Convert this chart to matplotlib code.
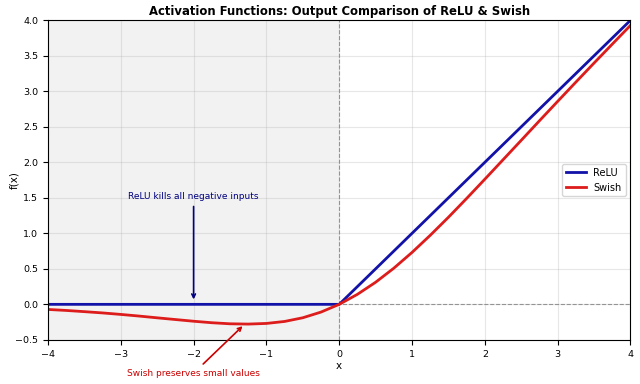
import numpy as np
import matplotlib.pyplot as plt

# ReLU is piecewise linear, corners are enough
relu_x = [-4.0, 0.0, 4.0]
relu_y = [0.0, 0.0, 4.0]

# Swish values at 0.25 steps
swish_x = [-4.0, -3.75, -3.5, -3.25, -3.0, -2.75, -2.5, -2.25, -2.0, -1.75, -1.5,
           -1.25, -1.0, -0.75, -0.5, -0.25, 0.0, 0.25, 0.5, 0.75, 1.0, 1.25, 1.5,
           1.75, 2.0, 2.25, 2.5, 2.75, 3.0, 3.25, 3.5, 3.75, 4.0]
swish_y = [-0.072, -0.086, -0.103, -0.121, -0.142, -0.165, -0.190, -0.214, -0.238,
           -0.259, -0.274, -0.278, -0.269, -0.241, -0.189, -0.109, 0.0, 0.141, 0.311,
           0.509, 0.731, 0.972, 1.226, 1.491, 1.762, 2.036, 2.310, 2.585, 2.858,
           3.129, 3.398, 3.664, 3.928]

fig, ax = plt.subplots(figsize=(6.4, 3.84), dpi=100)

ax.axvspan(-4, 0, color='grey', alpha=0.1, lw=0)
ax.axhline(0, color='grey', ls='--', lw=0.8, alpha=0.8)
ax.axvline(0, color='grey', ls='--', lw=0.8, alpha=0.8)

ax.plot(relu_x, relu_y, color='#1212a8', lw=2, label='ReLU')
ax.plot(swish_x, swish_y, color='#dd1c1c', lw=2, label='Swish')

ax.annotate('ReLU kills all negative inputs', xy=(-2, 0.03), xytext=(-2, 1.52),
            color='navy', fontsize=6.5, ha='center', va='center',
            arrowprops=dict(arrowstyle='->', color='navy', lw=1.2))
ax.annotate('Swish preserves small values', xy=(-1.3, -0.28), xytext=(-2.0, -0.97),
            color='#cc0000', fontsize=6.5, ha='center', va='center',
            arrowprops=dict(arrowstyle='->', color='#cc0000', lw=1.2),
            annotation_clip=False)

ax.set_xlim(-4, 4)
ax.set_ylim(-0.5, 4.0)
ax.set_yticks(np.arange(-0.5, 4.01, 0.5))
ax.set_xlabel('x', fontsize=7.5, labelpad=2)
ax.set_ylabel('f(x)', fontsize=7.5)
ax.yaxis.set_label_coords(-0.05, 0.5)
ax.set_title('Activation Functions: Output Comparison of ReLU & Swish',
             fontsize=8.4, fontweight='bold', pad=4)
ax.tick_params(labelsize=6.8)
ax.grid(alpha=0.3)
ax.legend(loc='center right', fontsize=7)

plt.subplots_adjust(left=0.075, right=0.985, top=0.947, bottom=0.115)
plt.savefig('out.png')
